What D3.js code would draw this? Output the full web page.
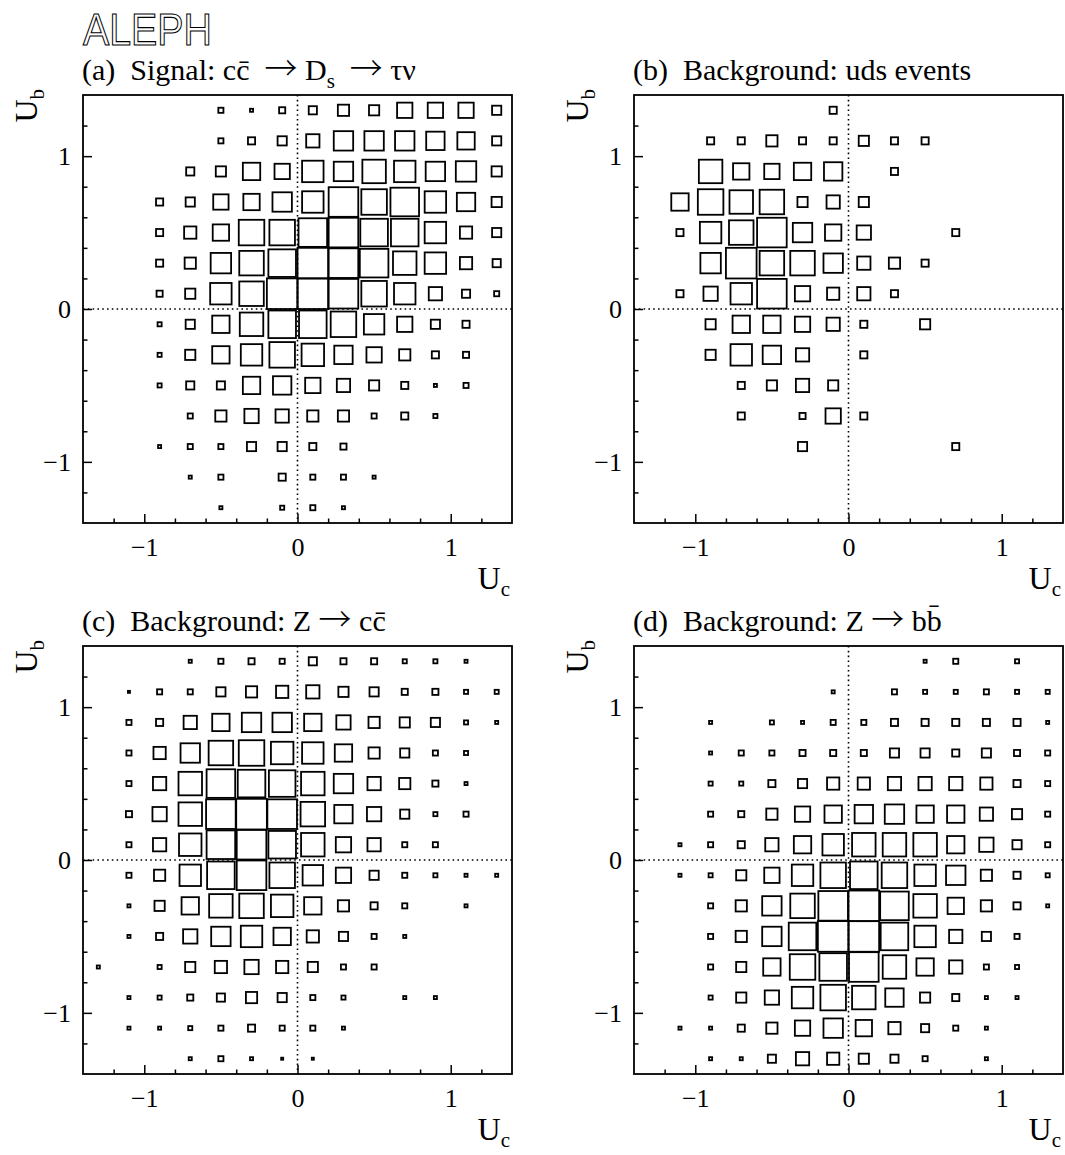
<!DOCTYPE html>
<html>
<head>
<meta charset="utf-8">
<script src="https://cdn.jsdelivr.net/npm/d3@7"></script>
<style>
  body { margin: 0; background: #fff; }
  text { white-space: pre; }
  .logo { -webkit-font-smoothing: antialiased; }
</style>
</head>
<body>
<svg id="fig" width="1065" height="1155"></svg>
<script>
// Bin centres (both axes), rows listed from U_b = +1.3 down to -1.3
const binCenters = [-1.3, -1.1, -0.9, -0.7, -0.5, -0.3, -0.1, 0.1, 0.3, 0.5, 0.7, 0.9, 1.1, 1.3];
const rowCenters = [1.3, 1.1, 0.9, 0.7, 0.5, 0.3, 0.1, -0.1, -0.3, -0.5, -0.7, -0.9, -1.1, -1.3];
const majorTicks = [-1, 0, 1];
const minorTicks = [-1.2, -0.8, -0.6, -0.4, -0.2, 0.2, 0.4, 0.6, 0.8, 1.2];
const tickLabels = ["\u22121", "0", "1"];

// (a) Signal: c cbar -> Ds -> tau nu
const signalDs = [
  [0,0,0,0,5,3,6,8,11,10,15,15,15,9],
  [0,0,0,0,5,7,9,13,19,19,19,18,17,9],
  [0,0,0,8,10,17,15,21,19,23,21,19,20,10],
  [0,0,7,9,15,16,19,21,29,25,28,21,18,10],
  [0,0,7,12,16,25,25,28,29,27,27,21,12,9],
  [0,0,7,11,20,24,27,30,29,28,23,21,12,8],
  [0,0,6,10,21,24,30,30,29,25,21,13,8,5],
  [0,0,4,9,17,23,27,27,25,20,15,9,7,0],
  [0,0,4,10,17,21,25,22,18,15,11,7,6,0],
  [0,0,4,8,8,17,18,15,13,10,7,3,5,0],
  [0,0,0,5,11,14,13,11,11,5,7,4,0,0],
  [0,0,3,5,5,9,9,7,6,0,0,0,0,0],
  [0,0,0,3,5,0,7,5,5,3,0,0,0,0],
  [0,0,0,0,3,0,4,5,3,0,0,0,0,0]
];

// (b) Background: uds events
const bkgUds = [
  [0,0,0,0,0,0,7,0,0,0,0,0,0,0],
  [0,0,7,7,11,7,7,10,7,7,0,0,0,0],
  [0,0,23,16,15,17,18,0,7,0,0,0,0,0],
  [0,17,25,23,24,10,13,10,0,0,0,0,0,0],
  [0,7,21,24,29,19,16,14,0,0,7,0,0,0],
  [0,0,20,30,24,24,19,13,11,7,0,0,0,0],
  [0,7,14,21,29,15,12,13,7,0,0,0,0,0],
  [0,0,10,17,17,15,13,7,0,10,0,0,0,0],
  [0,0,10,21,18,13,0,7,0,0,0,0,0,0],
  [0,0,0,7,10,13,10,0,0,0,0,0,0,0],
  [0,0,0,7,0,6,15,7,0,0,0,0,0,0],
  [0,0,0,0,0,9,0,0,0,0,7,0,0,0],
  [0,0,0,0,0,0,0,0,0,0,0,0,0,0],
  [0,0,0,0,0,0,0,0,0,0,0,0,0,0]
];

// (c) Background: Z -> c cbar
const bkgZcc = [
  [0,0,0,3,5,6,5,8,6,6,4,4,3,0],
  [0,2,5,5,9,11,12,13,10,9,6,6,4,4],
  [0,5,7,13,17,19,19,17,14,11,10,9,4,3],
  [0,5,12,19,24,25,22,21,17,11,9,5,4,0],
  [0,5,13,23,28,27,26,23,19,13,11,6,3,0],
  [0,6,14,23,29,30,29,24,18,14,9,4,5,0],
  [0,5,13,22,28,29,27,23,15,13,5,5,0,0],
  [0,5,11,21,27,29,25,20,15,9,5,4,3,3],
  [0,3,10,17,23,24,22,17,11,7,5,0,3,0],
  [0,3,7,14,19,21,17,12,9,5,3,0,0,0],
  [3,0,4,10,12,14,12,10,5,5,0,0,0,0],
  [0,3,4,6,8,11,9,5,4,0,3,3,0,0],
  [0,3,3,4,5,7,5,5,3,0,0,0,0,0],
  [0,0,0,3,5,3,2,2,0,0,0,0,0,0]
];

// (d) Background: Z -> b bbar
const bkgZbb = [
  [0,0,0,0,0,0,0,0,0,3,5,0,4,0],
  [0,0,0,0,0,0,3,0,5,4,4,5,4,4],
  [0,0,3,0,4,3,5,5,7,7,7,7,7,3],
  [0,0,3,5,5,6,6,6,9,9,7,9,6,5],
  [0,0,4,4,7,9,12,12,13,13,13,12,7,5],
  [0,0,5,6,11,15,17,18,19,17,17,13,10,5],
  [0,3,5,7,13,17,21,23,23,23,17,14,9,5],
  [0,3,4,10,15,21,25,27,25,21,19,11,7,4],
  [0,0,5,11,19,24,29,30,28,23,16,11,7,3],
  [0,0,5,11,19,27,30,30,27,21,13,9,5,0],
  [0,0,5,10,17,25,27,29,23,17,13,5,4,0],
  [0,0,4,10,14,21,25,23,18,10,7,3,3,0],
  [0,3,3,7,11,15,19,16,12,8,5,3,0,0],
  [0,0,3,3,8,13,12,10,8,5,0,3,0,0]
];

// Panel titles as runs: plain text, subscripts and arrows
const titleA = [["(a)  Signal: c"], ["c\u0304"], ["  "], ["\u2192", "arrow"], [" D"], ["s", "sub"], ["  "], ["\u2192", "arrow"], [" \u03c4\u03bd"]];
const titleB = [["(b)  Background: uds events"]];
const titleC = [["(c)  Background: Z "], ["\u2192", "arrow"], [" c"], ["c\u0304"]];
const titleD = [["(d)  Background: Z "], ["\u2192", "arrow"], [" b"], ["b\u0304"]];

const svg = d3.select("#fig");
const serif = "'Liberation Serif', 'Times New Roman', serif";

// Experiment logo: outlined capitals
svg.append("text")
  .attr("class", "logo")
  .attr("x", 83).attr("y", 45)
  .attr("font-family", "'Liberation Sans', Arial, sans-serif")
  .attr("font-size", 44)
  .attr("textLength", 129).attr("lengthAdjust", "spacingAndGlyphs")
  .attr("fill", "#fff").attr("stroke", "#000").attr("stroke-width", 1.1)
  .attr("opacity", 0.995)
  .text("ALEPH");

const W = 429, H = 428;
const panels = [
  { left: 83,  top: 95,  data: signalDs, title: titleA },
  { left: 634, top: 95,  data: bkgUds,   title: titleB },
  { left: 83,  top: 646, data: bkgZcc,   title: titleC },
  { left: 634, top: 646, data: bkgZbb,   title: titleD }
];

const x = d3.scaleLinear().domain([-1.4, 1.4]).range([0, W]);
const y = d3.scaleLinear().domain([-1.4, 1.4]).range([H, 0]);
const binW = x(0.2) - x(0);
const maxEntries = d3.max(panels, p => d3.max(p.data, r => d3.max(r)));
const side = d3.scaleLinear().domain([0, maxEntries]).range([0, binW]);

function writeRuns(sel, runs, base, sub) {
  let shift = 0;
  runs.forEach(([t, kind]) => {
    const ts = sel.append("tspan").text(t);
    let want = 0;
    if (kind === "sub") {
      ts.attr("font-size", sub);
      want = base * 0.28;
    } else if (kind === "arrow") {
      // thin, full-width arrow
      ts.attr("font-family", "'Noto Sans CJK JP', 'DejaVu Sans', sans-serif")
        .attr("font-size", base * 1.1).attr("font-weight", 300);
    }
    if (want !== shift) { ts.attr("dy", want - shift); shift = want; }
  });
}

panels.forEach(p => {
  const g = svg.append("g").attr("transform", `translate(${p.left},${p.top})`);

  // title
  const tt = g.append("text")
    .attr("x", -1).attr("y", -15)
    .attr("font-family", serif).attr("font-size", 30);
  writeRuns(tt, p.title, 30, 21);

  // zero lines
  g.append("line").attr("x1", x(0)).attr("x2", x(0)).attr("y1", 0).attr("y2", H)
    .attr("stroke", "#000").attr("stroke-width", 1.6).attr("stroke-dasharray", "1.6,3.2");
  g.append("line").attr("x1", 0).attr("x2", W).attr("y1", y(0)).attr("y2", y(0))
    .attr("stroke", "#000").attr("stroke-width", 1.6).attr("stroke-dasharray", "1.6,3.2");

  // boxes
  const cells = [];
  p.data.forEach((row, i) => row.forEach((v, j) => {
    if (v > 0) cells.push({ cx: binCenters[j], cy: rowCenters[i], v });
  }));
  g.append("g").selectAll("rect").data(cells).join("rect")
    .attr("x", d => x(d.cx) - side(d.v) / 2)
    .attr("y", d => y(d.cy) - side(d.v) / 2)
    .attr("width", d => side(d.v))
    .attr("height", d => side(d.v))
    .attr("fill", "none").attr("stroke", "#000").attr("stroke-width", 1.8);

  // axes: ticks point inwards
  g.append("g").attr("transform", `translate(0,${H})`)
    .call(d3.axisBottom(x).tickValues(majorTicks).tickSize(-9).tickPadding(15)
      .tickFormat((d, i) => tickLabels[i]));
  g.append("g").attr("transform", `translate(0,${H})`)
    .call(d3.axisBottom(x).tickValues(minorTicks).tickSize(-4.5).tickFormat(""));
  g.append("g")
    .call(d3.axisLeft(y).tickValues(majorTicks).tickSize(-9).tickPadding(12)
      .tickFormat((d, i) => tickLabels[i]));
  g.append("g")
    .call(d3.axisLeft(y).tickValues(minorTicks).tickSize(-4.5).tickFormat(""));
  g.selectAll(".domain").remove();
  g.selectAll(".tick line").attr("stroke", "#000").attr("stroke-width", 1.5);
  g.selectAll(".tick text").attr("font-family", serif).attr("font-size", 26).attr("fill", "#000");

  // frame
  g.append("rect").attr("width", W).attr("height", H)
    .attr("fill", "none").attr("stroke", "#000").attr("stroke-width", 1.8);

  // axis titles
  const xt = g.append("text").attr("x", W - 2).attr("y", H + 66)
    .attr("text-anchor", "end").attr("font-family", serif).attr("font-size", 32);
  writeRuns(xt, [["U"], ["c", "sub"]], 26, 21);

  const yt = g.append("text")
    .attr("transform", `translate(-46,-6) rotate(-90)`)
    .attr("text-anchor", "end").attr("font-family", serif).attr("font-size", 32);
  writeRuns(yt, [["U"], ["b", "sub"]], 26, 21);
});
</script>
</body>
</html>
